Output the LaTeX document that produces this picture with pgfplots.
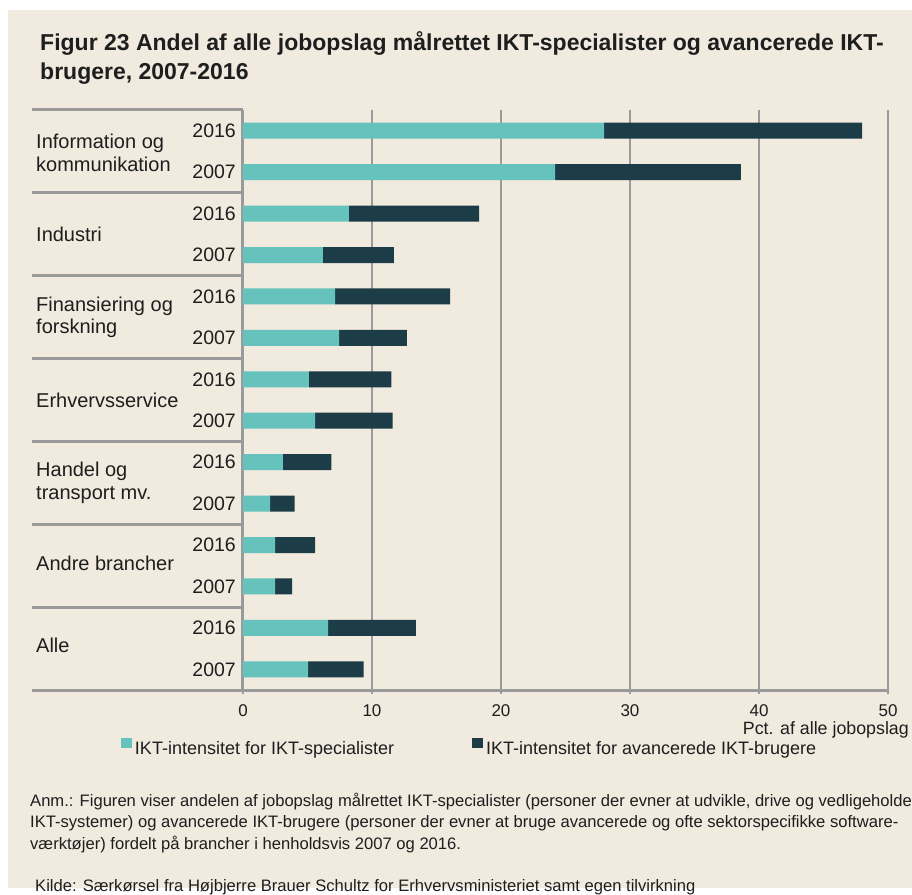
\documentclass[border=0pt]{standalone}
\usepackage{pgfplots}
\pgfplotsset{compat=1.18}
\usepackage{fontspec}
\setmainfont{Liberation Sans}
\definecolor{bg}{HTML}{F0EADF}
\definecolor{cyanbar}{HTML}{66C2BD}
\definecolor{darkbar}{HTML}{1C3D48}
\definecolor{linegray}{HTML}{9A9A9A}
\definecolor{txt}{HTML}{1E1E1E}
\begin{document}
\begin{tikzpicture}[x=1pt,y=1pt]
\begin{scope}[shift={(-243pt,-198pt)}]
\useasboundingbox (0,0) rectangle (912,888);
\fill[white] (0,0) rectangle (912,888);
\fill[bg] (8,0) rectangle (912,878);
\node[anchor=base west, inner sep=0pt, text=txt, font=\fontsize{23}{27}\selectfont\bfseries] at (40,888-51) {Figur 23 Andel af alle jobopslag målrettet IKT-specialister og avancerede IKT-};
\node[anchor=base west, inner sep=0pt, text=txt, font=\fontsize{23}{27}\selectfont\bfseries] at (40,888-80) {brugere, 2007-2016};
\end{scope}
\begin{axis}[
  scale only axis, width=645pt, height=580pt,
  xbar stacked, bar width=16pt,
  xmin=0, xmax=50, ymin=0.5, ymax=14.5, y dir=reverse,
  xtick={0,10,20,30,40,50},
  ytick={1,2,3,4,5,6,7,8,9,10,11,12,13,14},
  yticklabels={2016,2007,2016,2007,2016,2007,2016,2007,2016,2007,2016,2007,2016,2007},
  axis x line=bottom, axis y line=left,
  axis line style={linegray, line width=3pt, -},
  xmajorgrids, grid style={linegray, line width=2pt},
  tick align=outside, major tick length=4pt,
  xtick style={linegray, line width=2pt},
  ytick style={draw=none},
  /pgf/number format/assume math mode=true,
  xticklabel style={font=\fontsize{17}{20}\selectfont, text=txt, inner sep=0pt, yshift=-10pt},
  yticklabel style={font=\fontsize{19.5}{22}\selectfont, text=txt, inner sep=0pt, xshift=-3pt},
  clip=false,
  legend columns=2,
  legend image code/.code={\fill[#1,draw=none] (0pt,0pt) rectangle (11pt,10pt);},
  legend style={at={(-0.18915,-0.0983)}, anchor=west, draw=none, fill=none,
    inner sep=0pt, outer sep=0pt, column sep=3pt,
    font=\fontsize{18}{20}\selectfont, text=txt,
    nodes={inner sep=0pt},
    /tikz/column 2/.style={column sep=78pt}},
]
\addplot[fill=cyanbar, draw=none] coordinates {
(28.0,1) (24.2,2) (8.2,3) (6.2,4) (7.15,5) (7.45,6) (5.1,7) (5.6,8)
(3.1,9) (2.1,10) (2.5,11) (2.5,12) (6.6,13) (5.05,14)};
\addlegendentry{IKT-intensitet for IKT-specialister}
\addplot[fill=darkbar, draw=none] coordinates {
(20.0,1) (14.4,2) (10.1,3) (5.5,4) (8.9,5) (5.25,6) (6.4,7) (6.0,8)
(3.75,9) (1.9,10) (3.1,11) (1.3,12) (6.8,13) (4.3,14)};
\addlegendentry{IKT-intensitet for avancerede IKT-brugere}
% group separators
\pgfplotsinvokeforeach{0.5,2.5,4.5,6.5,8.5,10.5,12.5,14.5}{
  \draw[linegray, line width=3pt] (axis cs:0,#1) -- ++(-211pt,0pt);
}
\node[anchor=west, align=left, inner sep=0pt, text=txt, font=\fontsize{20}{22.5}\selectfont, xshift=-207pt, yshift=-1.5pt] at (axis cs:0,1.5) {Information og\\kommunikation};
\node[anchor=west, align=left, inner sep=0pt, text=txt, font=\fontsize{20}{22.5}\selectfont, xshift=-207pt] at (axis cs:0,3.5) {Industri};
\node[anchor=west, align=left, inner sep=0pt, text=txt, font=\fontsize{20}{22.5}\selectfont, xshift=-207pt] at (axis cs:0,5.5) {Finansiering og\\forskning};
\node[anchor=west, align=left, inner sep=0pt, text=txt, font=\fontsize{20}{22.5}\selectfont, xshift=-207pt] at (axis cs:0,7.5) {Erhvervsservice};
\node[anchor=west, align=left, inner sep=0pt, text=txt, font=\fontsize{20}{22.5}\selectfont, xshift=-207pt] at (axis cs:0,9.5) {Handel og\\transport mv.};
\node[anchor=west, align=left, inner sep=0pt, text=txt, font=\fontsize{20}{22.5}\selectfont, xshift=-207pt, yshift=2pt] at (axis cs:0,11.5) {Andre brancher};
\node[anchor=west, align=left, inner sep=0pt, text=txt, font=\fontsize{20}{22.5}\selectfont, xshift=-207pt, yshift=3pt] at (axis cs:0,13.5) {Alle};
\node[anchor=east, inner sep=0pt, text=txt, font=\fontsize{17.8}{20}\selectfont, xshift=21pt, yshift=-40pt] at (axis cs:50,14.5) {Pct. af alle jobopslag};
\end{axis}
\begin{scope}[shift={(-243pt,-198pt)}, every node/.style={anchor=base west, inner sep=0pt, text=txt, font=\fontsize{16.6}{20}\selectfont}]
\node at (30,888-806) {Anm.: Figuren viser andelen af jobopslag målrettet IKT-specialister (personer der evner at udvikle, drive og vedligeholde};
\node at (30,888-827.5) {IKT-systemer) og avancerede IKT-brugere (personer der evner at bruge avancerede og ofte sektorspecifikke software-};
\node at (30,888-849) {værktøjer) fordelt på brancher i henholdsvis 2007 og 2016.};
\node at (35,888-891) {Kilde: Særkørsel fra Højbjerre Brauer Schultz for Erhvervsministeriet samt egen tilvirkning};
\end{scope}
\end{tikzpicture}
\end{document}
